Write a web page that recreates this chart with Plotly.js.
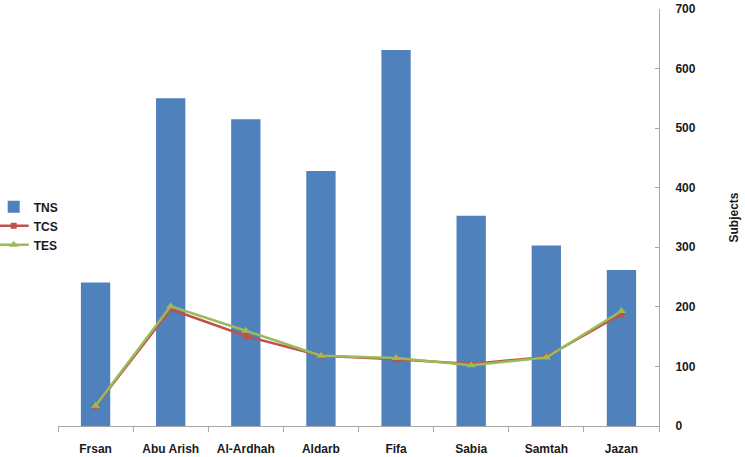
<!DOCTYPE html>
<html>
<head>
<meta charset="utf-8">
<script src="https://cdn.plot.ly/plotly-3.0.1.min.js"></script>
<style>
  html, body { margin: 0; padding: 0; background: #ffffff; }
  #chart { width: 745px; height: 457px; }
</style>
</head>
<body>
<div id="chart"></div>
<script>
const regions = ["Frsan", "Abu Arish", "Al-Ardhah", "Aldarb", "Fifa", "Sabia", "Samtah", "Jazan"];
const tnsValues = [241, 550, 515, 428, 631, 353, 303, 262];
const tcsValues = [33, 196, 151, 118, 112, 104, 116, 188];
const tesValues = [34, 201, 160, 118, 114, 102, 115, 193];

const FONT = "Liberation Sans, Arial, sans-serif";
const AXIS_GREY = "#a6a6a6";
const TEXT_FONT = { family: FONT, size: 12, weight: "bold", color: "#1a1a1a" };

const traces = [
  {
    type: "bar",
    name: "TNS",
    x: regions,
    y: tnsValues,
    marker: { color: "#4f81bd" },
  },
  {
    type: "scatter",
    mode: "lines+markers",
    name: "TCS",
    x: regions,
    y: tcsValues,
    line: { color: "#c0504d", width: 2.5 },
    marker: { symbol: "square", size: 6, color: "#c0504d" },
  },
  {
    type: "scatter",
    mode: "lines+markers",
    name: "TES",
    x: regions,
    y: tesValues,
    line: { color: "#9bbb59", width: 2.5 },
    marker: { symbol: "triangle-up", size: 8, color: "#9bbb59" },
  },
];

const layout = {
  width: 745,
  height: 457,
  paper_bgcolor: "#ffffff",
  plot_bgcolor: "#ffffff",
  margin: { l: 58, r: 86, t: 9, b: 31, autoexpand: false },
  bargap: 0.61,
  font: { family: FONT, size: 12, color: "#1a1a1a" },
  showlegend: true,
  legend: {
    x: -0.107,
    xanchor: "left",
    y: 0.48,
    yanchor: "middle",
    font: TEXT_FONT,
    bgcolor: "rgba(0,0,0,0)",
    itemwidth: 30,
  },
  xaxis: {
    type: "category",
    automargin: false,
    showline: true,
    linecolor: AXIS_GREY,
    linewidth: 1,
    ticks: "outside",
    tickson: "boundaries",
    ticklen: 5,
    tickcolor: AXIS_GREY,
    ticklabelstandoff: 12,
    showgrid: false,
    zeroline: false,
    tickfont: TEXT_FONT,
  },
  yaxis: {
    side: "right",
    automargin: false,
    range: [0, 700],
    dtick: 100,
    showline: true,
    linecolor: AXIS_GREY,
    linewidth: 1,
    ticks: "inside",
    ticklen: 4,
    tickcolor: AXIS_GREY,
    showgrid: false,
    zeroline: false,
    ticklabelstandoff: 13,
    tickfont: TEXT_FONT,
    title: {
      text: "Subjects",
      standoff: 34,
      font: TEXT_FONT,
    },
  },
};

Plotly.newPlot("chart", traces, layout, { displayModeBar: false, staticPlot: true });
</script>
</body>
</html>
